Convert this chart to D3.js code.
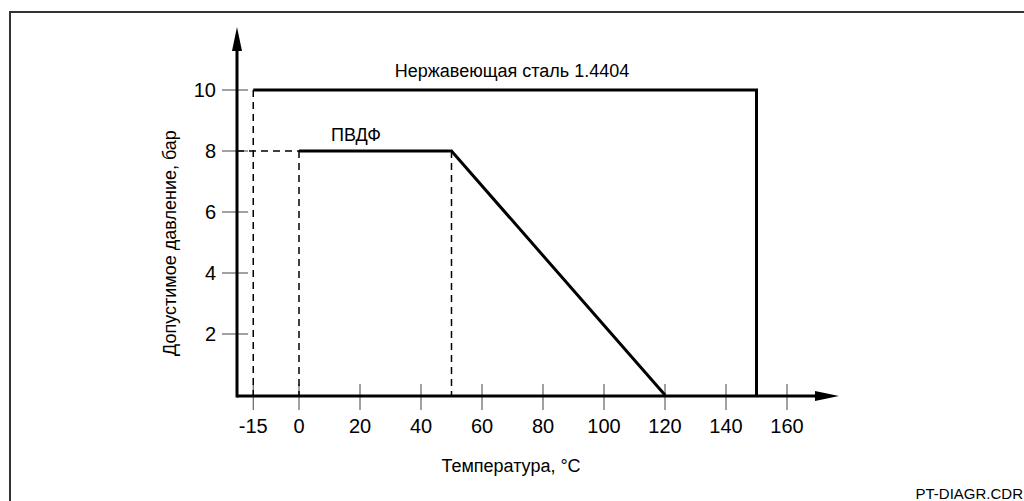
<!DOCTYPE html>
<html>
<head>
<meta charset="utf-8">
<script src="https://cdn.jsdelivr.net/npm/d3@7"></script>
<style>
  body { margin: 0; background: #fff; }
  svg { font-family: Arial, "Liberation Sans", sans-serif; }
</style>
</head>
<body>
<svg id="chart" width="1024" height="501"></svg>
<script>
// data
const xTicks = [-15, 0, 20, 40, 60, 80, 100, 120, 140, 160];
const yTicks = [2, 4, 6, 8, 10];
const steelTemp = [-15, 150, 150];
const steelPress = [10, 10, 0];
const pvdfTemp = [0, 50, 120];
const pvdfPress = [8, 8, 0];
const steelLabel = "Нержавеющая сталь 1.4404";
const pvdfLabel = "ПВДФ";
const xTitle = "Температура, °C";
const yTitle = "Допустимое давление, бар";
const fileTag = "PT-DIAGR.CDR";

const svg = d3.select("#chart");

// frame
svg.append("path")
    .attr("d", "M10,501 V12 H1024")
    .attr("fill", "none")
    .attr("stroke", "#333")
    .attr("stroke-width", 2);

const x = d3.scaleLinear().domain([0, 160]).range([299, 787]);
const y = d3.scaleLinear().domain([0, 10]).range([395, 90]);
const x0 = 237, y0 = 396;

// ticks
const xAxis = svg.append("g");
xAxis.selectAll("line").data(xTicks).enter().append("line")
    .attr("x1", d => x(d)).attr("x2", d => x(d))
    .attr("y1", y0 - 12).attr("y2", y0 + 14)
    .attr("stroke", "#444").attr("stroke-width", 1);
xAxis.selectAll("text").data(xTicks).enter().append("text")
    .attr("x", d => x(d)).attr("y", 433)
    .attr("text-anchor", "middle").attr("font-size", 20)
    .text(d => d);

const yAxis = svg.append("g");
yAxis.selectAll("line").data(yTicks).enter().append("line")
    .attr("x1", 222).attr("x2", 248)
    .attr("y1", d => y(d)).attr("y2", d => y(d))
    .attr("stroke", "#444").attr("stroke-width", 1);
yAxis.selectAll("text").data(yTicks).enter().append("text")
    .attr("x", 216).attr("y", d => y(d) + 7)
    .attr("text-anchor", "end").attr("font-size", 20)
    .text(d => d);

// dashed guides
const dash = "7,5";
const guides = [
  [x(-15), y(10), x(-15), y0],
  [x0, y(8), x(0), y(8)],
  [x(0), y(8), x(0), y0],
  [x(50), y(8), x(50), y0]
];
svg.selectAll(".guide").data(guides).enter().append("line")
    .attr("class", "guide")
    .attr("x1", d => d[0]).attr("y1", d => d[1])
    .attr("x2", d => d[2]).attr("y2", d => d[3])
    .attr("stroke", "#000").attr("stroke-width", 1.5)
    .attr("stroke-dasharray", dash);

// axes lines with arrows
svg.append("line").attr("x1", x0).attr("y1", y0).attr("x2", 820).attr("y2", y0)
    .attr("stroke", "#000").attr("stroke-width", 3);
svg.append("path").attr("d", `M815,${y0 - 5} L839,${y0} L815,${y0 + 5} Z`).attr("fill", "#000");
svg.append("line").attr("x1", x0).attr("y1", y0 + 1.5).attr("x2", x0).attr("y2", 45)
    .attr("stroke", "#000").attr("stroke-width", 3);
svg.append("path").attr("d", `M${x0 - 5},51 L${x0},27 L${x0 + 5},51 Z`).attr("fill", "#000");

// series
const line = d3.line().x(d => x(d[0])).y(d => y(d[1]));
svg.append("path")
    .attr("d", line(steelTemp.map((t, i) => [t, steelPress[i]])))
    .attr("fill", "none").attr("stroke", "#000").attr("stroke-width", 3);
svg.append("path")
    .attr("d", line(pvdfTemp.map((t, i) => [t, pvdfPress[i]])))
    .attr("fill", "none").attr("stroke", "#000").attr("stroke-width", 3);

// labels
svg.append("text").attr("x", 512).attr("y", 77).attr("text-anchor", "middle")
    .attr("font-size", 18).text(steelLabel);
svg.append("text").attr("x", 356).attr("y", 141).attr("text-anchor", "middle")
    .attr("font-size", 18).text(pvdfLabel);
svg.append("text").attr("x", 511).attr("y", 472).attr("text-anchor", "middle")
    .attr("font-size", 18).text(xTitle);
svg.append("text").attr("transform", "translate(176,243) rotate(-90)")
    .attr("text-anchor", "middle").attr("font-size", 18).text(yTitle);
svg.append("text").attr("x", 1023).attr("y", 499).attr("text-anchor", "end")
    .attr("font-size", 15).text(fileTag);
</script>
</body>
</html>
